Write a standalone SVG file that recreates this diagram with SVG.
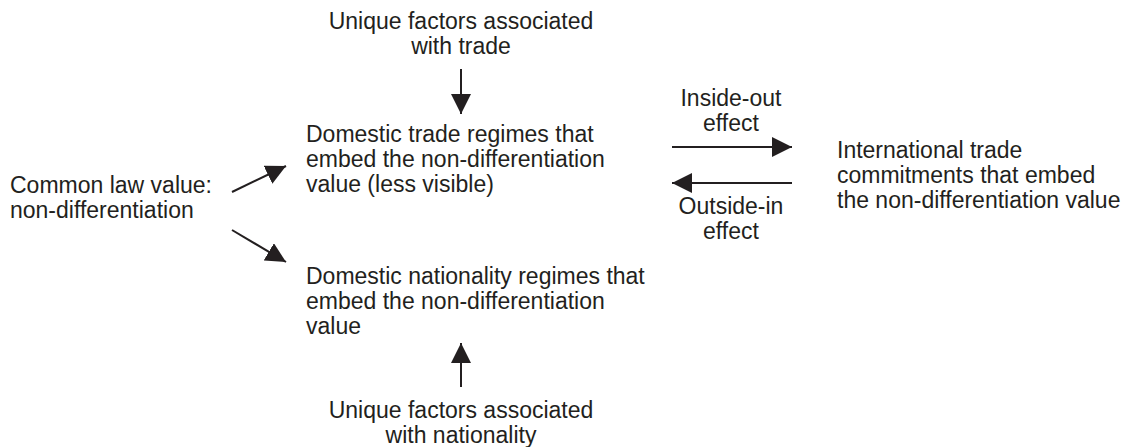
<svg xmlns="http://www.w3.org/2000/svg" width="1140" height="447" viewBox="0 0 1140 447">
<style>
text{font-family:"Liberation Sans",Arial,sans-serif;font-size:23px;fill:#231f20}
.c{text-anchor:middle}
.ln{stroke:#231f20;stroke-width:2;fill:none}
</style>
<defs>
<marker id="big" viewBox="0 0 20 20" refX="20" refY="10" markerWidth="20" markerHeight="20" markerUnits="userSpaceOnUse" orient="auto">
<path d="M0,0 L20,10 L0,20 Z" fill="#231f20"/>
</marker>
</defs>
<rect width="1140" height="447" fill="#fff"/>
<g id="trade-factors">
<text class="c" x="461" y="29">Unique factors associated</text>
<text class="c" x="461" y="54">with trade</text>
</g>
<g id="domestic-trade">
<text x="306" y="142">Domestic trade regimes that</text>
<text x="306" y="167">embed the non-differentiation</text>
<text x="306" y="192">value (less visible)</text>
</g>
<g id="common-law">
<text x="10" y="193">Common law value:</text>
<text x="10" y="218">non-differentiation</text>
</g>
<g id="domestic-nationality">
<text x="306" y="284">Domestic nationality regimes that</text>
<text x="306" y="309">embed the non-differentiation</text>
<text x="306" y="334">value</text>
</g>
<g id="nationality-factors">
<text class="c" x="461" y="418">Unique factors associated</text>
<text class="c" x="461" y="443">with nationality</text>
</g>
<g id="international">
<text x="837" y="158">International trade</text>
<text x="837" y="183">commitments that embed</text>
<text x="837" y="208">the non-differentiation value</text>
</g>
<g id="labels">
<text class="c" x="731" y="106">Inside-out</text>
<text class="c" x="731" y="131">effect</text>
<text class="c" x="731" y="214">Outside-in</text>
<text class="c" x="731" y="239">effect</text>
</g>
<g id="connectors">
<line class="ln" x1="461" y1="69" x2="461" y2="114" marker-end="url(#big)"/>
<line class="ln" x1="461" y1="387" x2="461" y2="343" marker-end="url(#big)"/>
<line class="ln" x1="232" y1="192" x2="286" y2="166" marker-end="url(#big)"/>
<line class="ln" x1="232" y1="230" x2="286" y2="262" marker-end="url(#big)"/>
<line class="ln" x1="672" y1="147" x2="792" y2="147" marker-end="url(#big)"/>
<line class="ln" x1="792" y1="183" x2="672" y2="183" marker-end="url(#big)"/>
</g>
</svg>
